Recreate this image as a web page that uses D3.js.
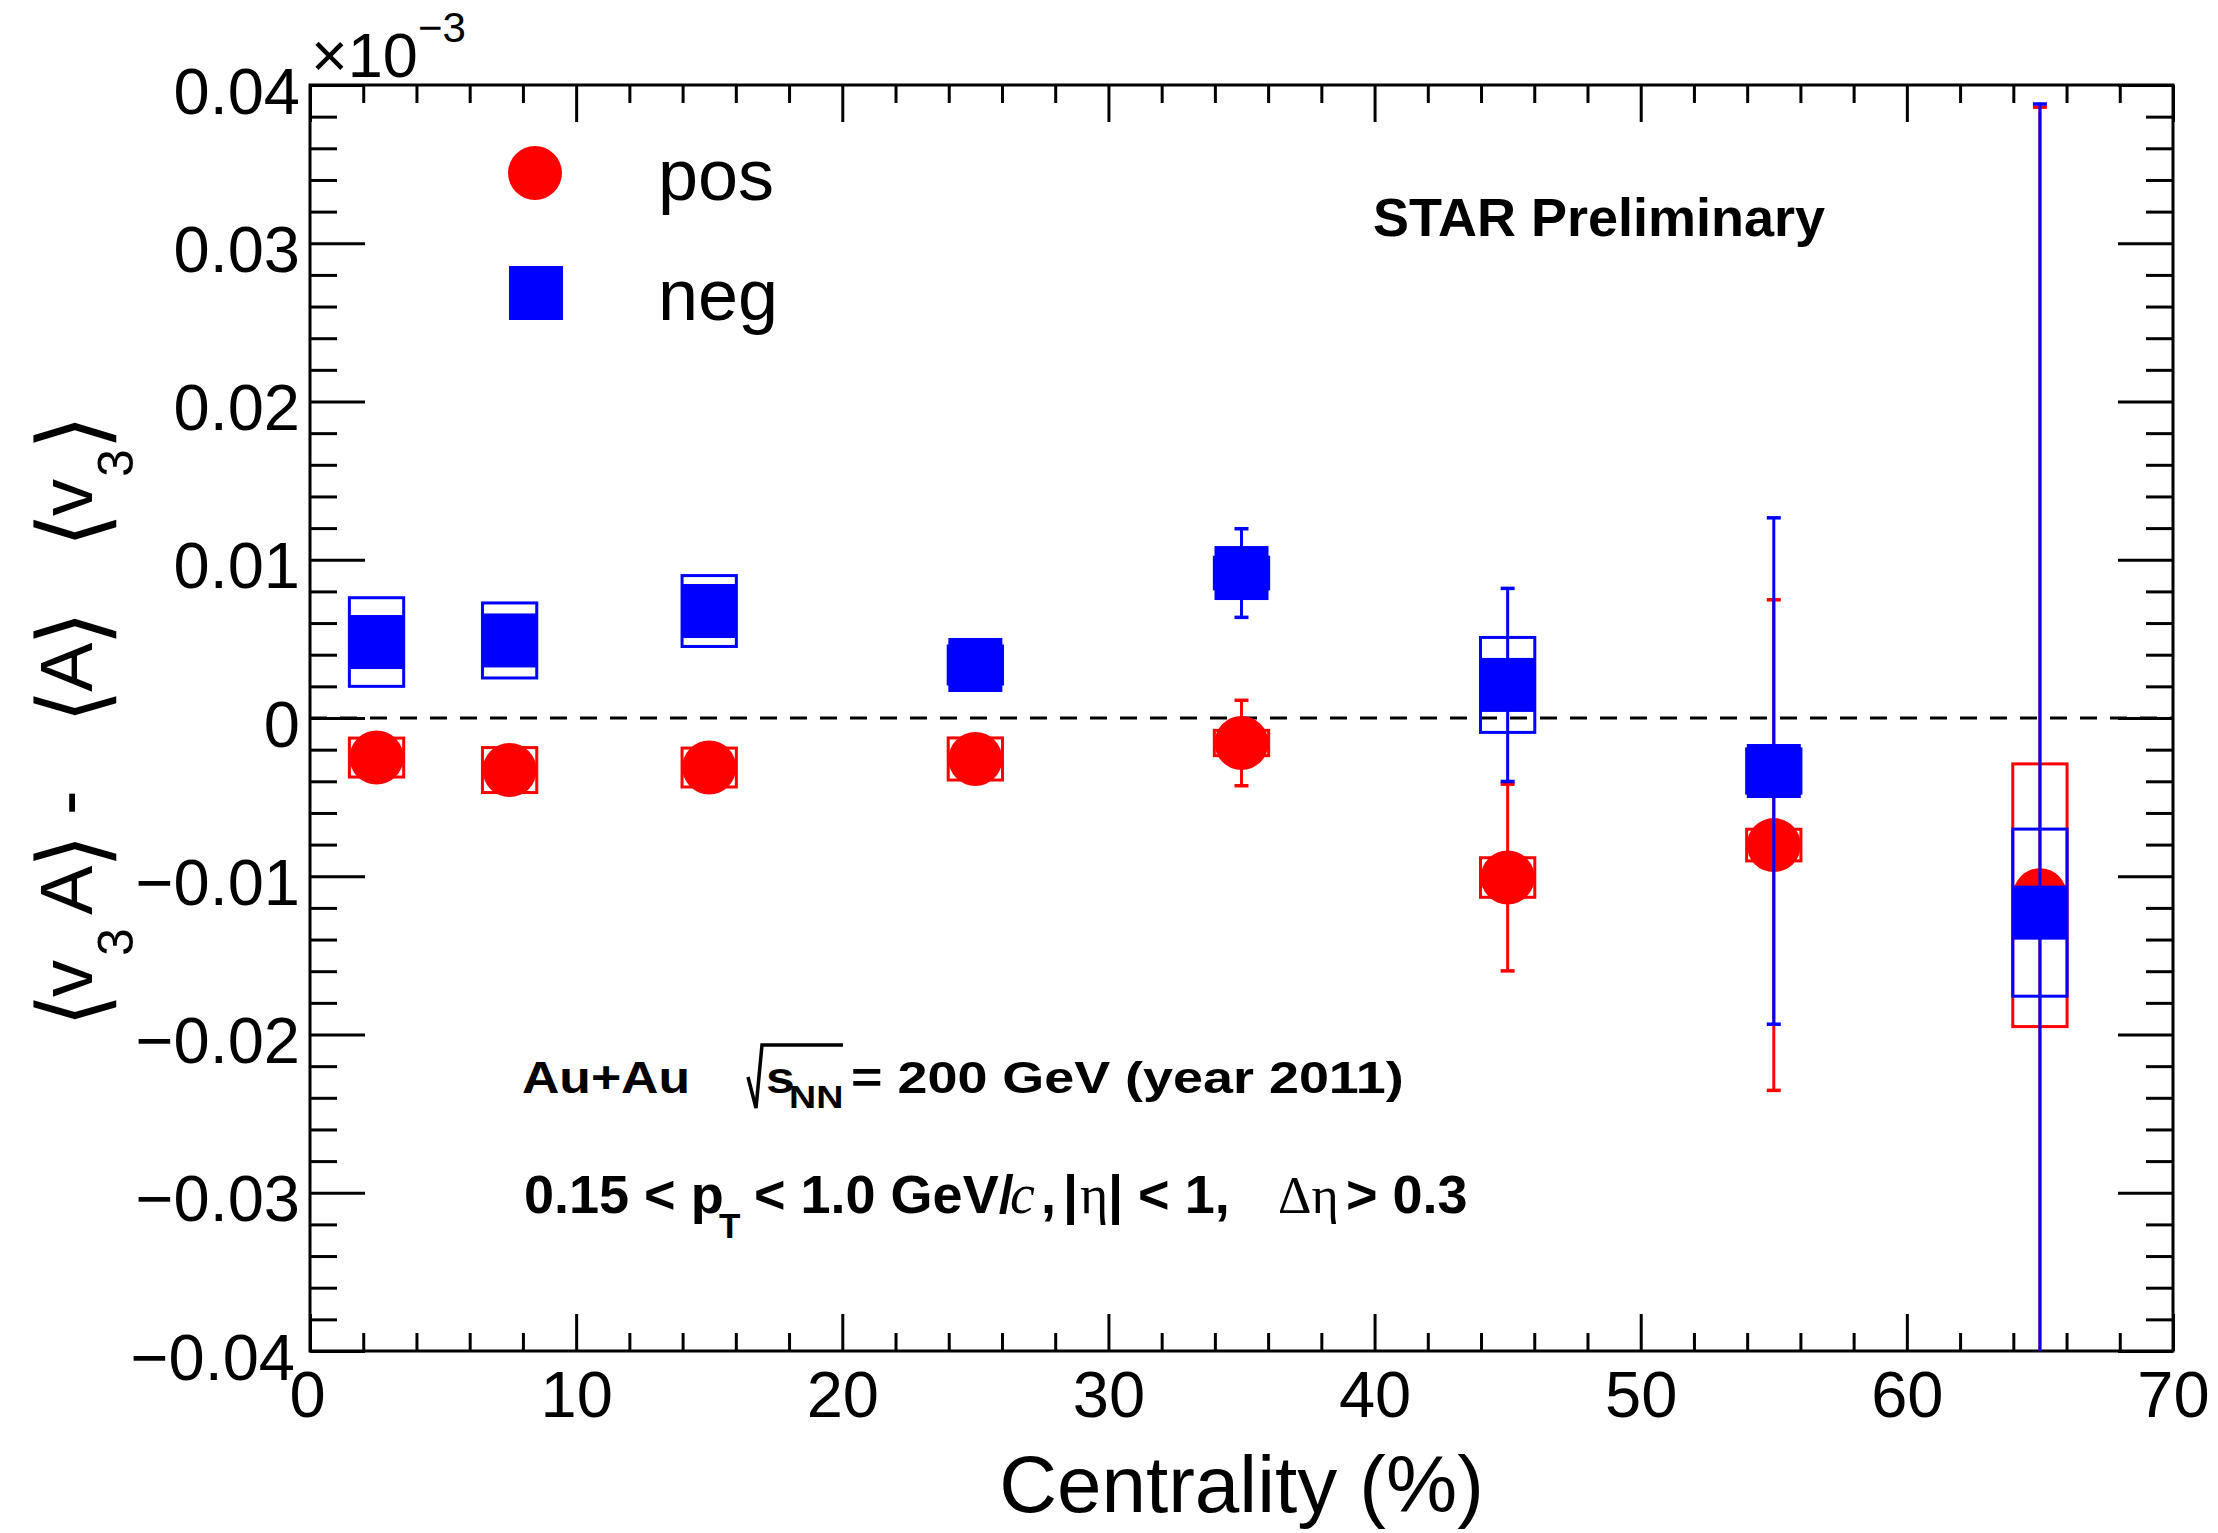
<!DOCTYPE html>
<html>
<head>
<meta charset="utf-8">
<script src="https://cdn.jsdelivr.net/npm/d3@7"></script>
<style>
  body { margin: 0; background: #fff; }
  svg { display: block; }
  text { font-family: "Liberation Sans", Arial, Helvetica, sans-serif; fill: #000; }
</style>
</head>
<body>
<div id="chart"></div>
<script>
// chart values
const centrality = [2.5, 7.5, 15, 25, 35, 45, 55, 65];

const posValues = [-0.00250, -0.00329, -0.00313, -0.00259, -0.00158, -0.01008, -0.00803, -0.01120];
const posStat   = [0.0010, 0.0010, 0.0010, 0.0010, 0.0027, 0.0059, 0.0155, 0.0498];
const posSys    = [0.00123, 0.00142, 0.00123, 0.00133, 0.0008, 0.00125, 0.0010, 0.0083];

const negValues = [0.0048, 0.0049, 0.00676, 0.00335, 0.00916, 0.00209, -0.00335, -0.0123];
const negStat   = [0.0010, 0.0010, 0.0010, 0.0010, 0.0028, 0.0061, 0.0160, 0.0511];
const negSys    = [0.0028, 0.00237, 0.00224, 0.0012, 0.0010, 0.0030, 0.0014, 0.00528];

const xTicks = [0, 10, 20, 30, 40, 50, 60, 70];
const yTicks = [-0.04, -0.03, -0.02, -0.01, 0, 0.01, 0.02, 0.03, 0.04];

const W = 2218, H = 1533;
const plot = { left: 310, right: 2173, top: 85, bottom: 1351 };

const svg = d3.select("#chart").append("svg")
    .attr("width", W)
    .attr("height", H);

const x = d3.scaleLinear().domain([0, 70]).range([plot.left, plot.right]);
const y = d3.scaleLinear().domain([-0.04, 0.04]).range([plot.bottom, plot.top]);

const xMinor = d3.range(0, 71, 2).filter(d => d % 10 !== 0);
const yMinor = d3.range(-20, 21).filter(i => i % 5 !== 0).map(i => i * 0.002);

svg.append("clipPath").attr("id", "plotClip")
  .append("rect")
    .attr("x", plot.left).attr("y", plot.top)
    .attr("width", plot.right - plot.left).attr("height", plot.bottom - plot.top);

// ---- axes (ticks point inward, like ROOT) ----
function styleAxis(g) {
    g.select(".domain").remove();
    g.selectAll(".tick line").attr("stroke", "#000").attr("stroke-width", 3);
}

const yFmt = d => Math.abs(d) < 1e-9 ? "0" : d3.format(".2f")(d);

svg.append("g")
    .attr("transform", `translate(0,${plot.bottom})`)
    .call(d3.axisBottom(x).tickValues(xTicks).tickSize(-37).tickPadding(20).tickFormat(d3.format("d")))
    .call(styleAxis)
    .call(g => g.selectAll("text").attr("font-size", 65).attr("font-family", "Liberation Sans, Arial, sans-serif"))
    .call(g => g.selectAll(".tick").filter(d => d === 0).select("text").attr("x", -3));
svg.append("g")
    .attr("transform", `translate(0,${plot.bottom})`)
    .call(d3.axisBottom(x).tickValues(xMinor).tickSize(-18).tickFormat(""))
    .call(styleAxis);
svg.append("g")
    .attr("transform", `translate(0,${plot.top})`)
    .call(d3.axisTop(x).tickValues(xTicks).tickSize(-37).tickFormat(""))
    .call(styleAxis);
svg.append("g")
    .attr("transform", `translate(0,${plot.top})`)
    .call(d3.axisTop(x).tickValues(xMinor).tickSize(-18).tickFormat(""))
    .call(styleAxis);

svg.append("g")
    .attr("transform", `translate(${plot.left},0)`)
    .call(d3.axisLeft(y).tickValues(yTicks).tickSize(-55).tickPadding(10).tickFormat(yFmt))
    .call(styleAxis)
    .call(g => g.selectAll("text").attr("font-size", 65).attr("dy", 28)
        .attr("font-family", "Liberation Sans, Arial, sans-serif"))
    .call(g => g.selectAll(".tick").filter(d => d < -0.035).select("text").attr("x", -15));
svg.append("g")
    .attr("transform", `translate(${plot.left},0)`)
    .call(d3.axisLeft(y).tickValues(yMinor).tickSize(-27).tickFormat(""))
    .call(styleAxis);
svg.append("g")
    .attr("transform", `translate(${plot.right},0)`)
    .call(d3.axisRight(y).tickValues(yTicks).tickSize(-55).tickFormat(""))
    .call(styleAxis);
svg.append("g")
    .attr("transform", `translate(${plot.right},0)`)
    .call(d3.axisRight(y).tickValues(yMinor).tickSize(-27).tickFormat(""))
    .call(styleAxis);

// frame
svg.append("rect")
    .attr("x", plot.left).attr("y", plot.top)
    .attr("width", plot.right - plot.left).attr("height", plot.bottom - plot.top)
    .attr("fill", "none").attr("stroke", "#000").attr("stroke-width", 3);

// x10^-3 exponent
const expo = svg.append("text").attr("x", 311).attr("y", 77).attr("font-size", 63);
expo.append("tspan").text("×10");
expo.append("tspan").attr("font-size", 42).attr("dy", -35).text("−3");

// zero line
svg.append("line")
    .attr("x1", plot.left).attr("x2", plot.right)
    .attr("y1", y(0)).attr("y2", y(0))
    .attr("stroke", "#000").attr("stroke-width", 3)
    .attr("stroke-dasharray", "17,13");

// ---- data ----
const series = [
    { name: "pos", color: "#ff0000", shape: "circle", vals: posValues, stat: posStat, sys: posSys },
    { name: "neg", color: "#0000ff", shape: "square", vals: negValues, stat: negStat, sys: negSys }
];

const BOX_HALF = 1.02;   // half width of systematic boxes, in centrality units
const CAP = 7;
const MS = 54;           // marker size

series.forEach(s => {
    const pts = centrality.map((c, i) => ({ c: c, v: s.vals[i], st: s.stat[i], sy: s.sys[i] }));
    const g = svg.append("g").attr("class", "series-" + s.name).attr("clip-path", "url(#plotClip)");

    // systematic boxes
    g.selectAll("rect.sys").data(pts).enter().append("rect")
        .attr("class", "sys")
        .attr("x", d => x(d.c - BOX_HALF))
        .attr("width", d => x(d.c + BOX_HALF) - x(d.c - BOX_HALF))
        .attr("y", d => y(d.v + d.sy))
        .attr("height", d => y(d.v - d.sy) - y(d.v + d.sy))
        .attr("fill", "none")
        .attr("stroke", s.color)
        .attr("stroke-width", 3);

    // statistical error bars
    g.selectAll("line.err").data(pts).enter().append("line")
        .attr("class", "err")
        .attr("x1", d => x(d.c)).attr("x2", d => x(d.c))
        .attr("y1", d => y(d.v + d.st)).attr("y2", d => y(d.v - d.st))
        .attr("stroke", s.color).attr("stroke-width", 3);
    ["+", "-"].forEach(sign => {
        g.selectAll("line.cap" + (sign === "+" ? "U" : "D")).data(pts).enter().append("line")
            .attr("class", "cap" + (sign === "+" ? "U" : "D"))
            .attr("x1", d => x(d.c) - CAP).attr("x2", d => x(d.c) + CAP)
            .attr("y1", d => y(sign === "+" ? d.v + d.st : d.v - d.st))
            .attr("y2", d => y(sign === "+" ? d.v + d.st : d.v - d.st))
            .attr("stroke", s.color).attr("stroke-width", 3.5);
    });

    // markers
    if (s.shape === "circle") {
        g.selectAll("circle.mk").data(pts).enter().append("circle")
            .attr("class", "mk")
            .attr("cx", d => x(d.c)).attr("cy", d => y(d.v))
            .attr("r", MS / 2)
            .attr("fill", s.color);
    } else {
        g.selectAll("rect.mk").data(pts).enter().append("rect")
            .attr("class", "mk")
            .attr("x", d => x(d.c) - MS / 2).attr("y", d => y(d.v) - MS / 2)
            .attr("width", MS).attr("height", MS)
            .attr("fill", s.color);
    }
});

// ---- legend ----
svg.append("circle").attr("cx", 535).attr("cy", 173).attr("r", 27).attr("fill", "#ff0000");
svg.append("rect").attr("x", 509).attr("y", 266).attr("width", 54).attr("height", 54).attr("fill", "#0000ff");
svg.append("text").attr("x", 658).attr("y", 200).attr("font-size", 72).text("pos");
svg.append("text").attr("x", 658).attr("y", 320).attr("font-size", 72).text("neg");

// ---- labels ----
svg.append("text")
    .attr("x", 1373).attr("y", 236)
    .attr("font-size", 54).attr("font-weight", "bold")
    .text("STAR Preliminary");

// line 1: Au+Au sqrt(s_NN) = 200 GeV (year 2011)
const L1 = 1093;
function wideText(xp, yp, str, size, sx) {
    return svg.append("text")
        .attr("transform", `translate(${xp},${yp}) scale(${sx},1)`)
        .attr("font-size", size).attr("font-weight", "bold")
        .text(str);
}
wideText(522, L1, "Au+Au", 44, 1.175);
wideText(766, L1, "s", 44, 1.175);
wideText(789, 1108, "NN", 32, 1.175);
wideText(851, L1, "= 200 GeV (year 2011)", 44, 1.225);
svg.append("path")
    .attr("d", "M748,1077 L756,1108 L762,1045 L843,1045")
    .attr("fill", "none").attr("stroke", "#000").attr("stroke-width", 3.5)
    .attr("stroke-linejoin", "miter");

// line 2: 0.15 < pT < 1.0 GeV/c, |eta| < 1, delta-eta > 0.3
const L2 = 1213;
const serif = "Liberation Serif, Times New Roman, serif";
const t2 = svg.append("text").attr("y", L2).attr("font-size", 54).attr("font-weight", "bold");
t2.append("tspan").attr("x", 524).text("0.15 < p");
t2.append("tspan").attr("x", 719).attr("y", 1238).attr("font-size", 35).text("T");
t2.append("tspan").attr("x", 754).attr("y", L2).text("< 1.0 GeV/");
t2.append("tspan").attr("x", 1010).attr("font-family", serif).attr("font-style", "italic")
    .attr("font-weight", "normal").attr("font-size", 56).text("c");
t2.append("tspan").attr("x", 1041).text(",");
t2.append("tspan").attr("x", 1063).text("|");
t2.append("tspan").attr("x", 1080).attr("font-family", serif).attr("font-weight", "normal").attr("font-size", 54).text("η");
t2.append("tspan").attr("x", 1108).text("| < 1,");
t2.append("tspan").attr("x", 1278).attr("font-family", serif).attr("font-weight", "normal").attr("font-size", 52).text("Δη");
t2.append("tspan").attr("x", 1346).text("> 0.3");

// x title
svg.append("text")
    .attr("x", (plot.left + plot.right) / 2).attr("y", 1512)
    .attr("text-anchor", "middle").attr("font-size", 80)
    .text("Centrality (%)");

// ---- y title, built piece by piece along the rotated baseline ----
const yt = svg.append("g").attr("transform", "translate(92,0) rotate(-90)");
const measureCtx = document.createElement("canvas").getContext("2d");
const bracketFont = "DejaVu Sans";

function bracket(ch, yBottom, yTop) {
    // fit the glyph ink into [yTop,yBottom] along the text and from x=33 to x=117 across it
    const F = 100;
    measureCtx.font = `${F}px "${bracketFont}"`;
    const m = measureCtx.measureText(ch);
    const inkW = m.actualBoundingBoxLeft + m.actualBoundingBoxRight;
    const inkH = m.actualBoundingBoxAscent + m.actualBoundingBoxDescent;
    const sx = (yBottom - yTop) / inkW;
    const sy = 84 / inkH;
    const u0 = -yBottom;
    yt.append("text")
        .attr("transform", `translate(${u0 + m.actualBoundingBoxLeft * sx},${-59 + m.actualBoundingBoxAscent * sy}) scale(${sx},${sy})`)
        .attr("font-family", bracketFont)
        .attr("font-size", F)
        .text(ch);
}
function piece(str, yStart, size, shift) {
    yt.append("text")
        .attr("x", -yStart).attr("y", shift || 0)
        .attr("font-size", size)
        .text(str);
}

bracket("⟨", 1020, 1000);
piece("v", 997, 74);
piece("3", 956, 50, 41);
piece("A", 915, 74);
bracket("⟩", 861, 841);
piece("-", 815, 74);
bracket("⟨", 716, 696);
piece("A", 692, 74);
bracket("⟩", 639, 618);
bracket("⟨", 541, 520);
piece("v", 516, 74);
piece("3", 477, 50, 41);
bracket("⟩", 443, 422);
</script>
</body>
</html>
